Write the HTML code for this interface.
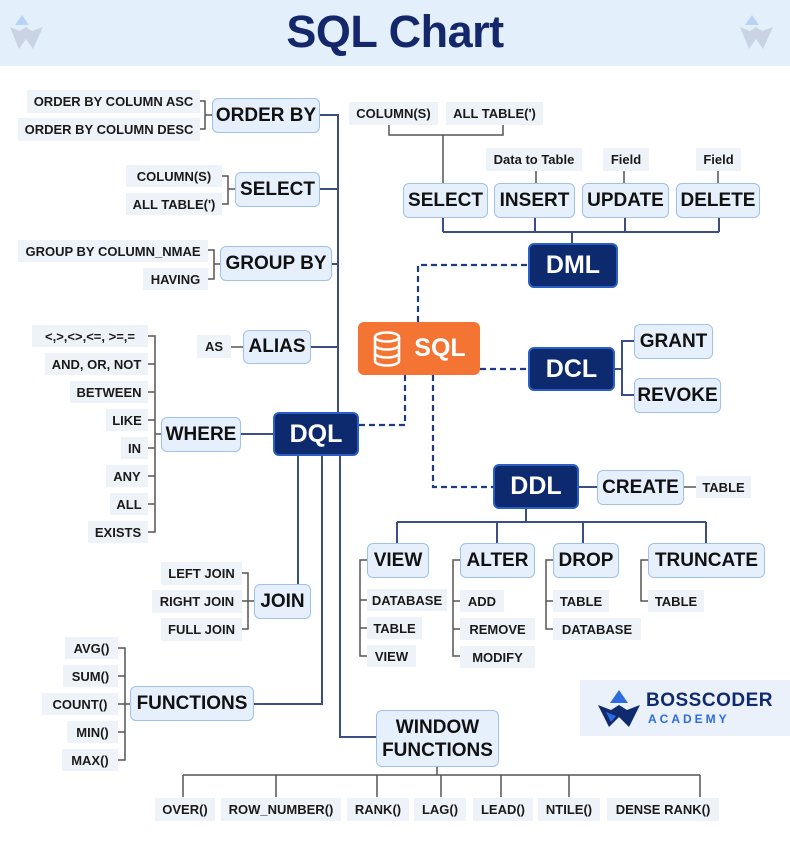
<!DOCTYPE html>
<html><head><meta charset="utf-8"><style>
*{margin:0;padding:0;box-sizing:border-box}
body{width:790px;height:844px;background:#fff;position:relative;overflow:hidden;font-family:"Liberation Sans",Arial,sans-serif}
.hdr{position:absolute;left:0;top:0;width:790px;height:66px;background:#e4effc}
.title{position:absolute;left:0;top:6px;width:790px;text-align:center;font-size:45px;font-weight:700;color:#13276a;letter-spacing:-0.5px}
.n,.l,.d{position:absolute;display:flex;align-items:center;justify-content:center;font-weight:700;white-space:nowrap}
.n{background:#e6f0fc;border:1.5px solid #9fc1ea;border-radius:6px;font-size:19px;color:#111}
.l{background:#eef3f9;font-size:13px;color:#1a1a1a}
.d{background:#0e2a6e;border:2px solid #2c5fc4;border-radius:6px;color:#fff;font-size:25px}
svg{position:absolute;left:0;top:0}
</style></head><body>
<div class="hdr"></div>
<div class="title">SQL Chart</div>
<svg width="790" height="844">
<g fill="none">
<g transform="translate(10,15)"><path d="M12 0 L19 10 L5 10Z" fill="#b8d3f6"/><path d="M0 12 L9 34 L16 24 L23 34 L33 12 L22 16 L16 12 L10 16Z" fill="#c9d3e3"/></g>
<g transform="translate(740,15)"><path d="M12 0 L19 10 L5 10Z" fill="#b8d3f6"/><path d="M0 12 L9 34 L16 24 L23 34 L33 12 L22 16 L16 12 L10 16Z" fill="#c9d3e3"/></g>
<g stroke="#3b4f86" stroke-width="2">
<path d="M320 115 H338 V412"/><path d="M320 189 H338"/><path d="M332 264 H338"/><path d="M311 347 H338"/>
<path d="M241 434 H273"/>
<path d="M298 456 V584"/><path d="M322 456 V704 H254"/><path d="M340 456 V737 H376"/>
<path d="M443 218 V232 M535 218 V232 M625 218 V232 M719 218 V232 M443 232 H719 M572 232 V243"/>
<path d="M615 369 H622 V341 H634 M622 369 V395 H634"/>
<path d="M578 487 H598"/>
<path d="M526 509 V522 M397 522 H706 M397 522 V543 M497 522 V543 M583 522 V543 M706 522 V543"/>
</g>
<g stroke="#1d3b86" stroke-width="2.2" stroke-dasharray="6,4">
<path d="M418 322 V265 H528"/>
<path d="M480 369 H528"/>
<path d="M433 375 V487 H493"/>
<path d="M359 425 H405 V375"/>
</g>
<g stroke="#555" stroke-width="1.5">
<path d="M200 101 H205 V129 H200 M205 115 H212"/>
<path d="M222 176 H228 V204 H222 M228 189 H235"/>
<path d="M208 250 H214 V279 H208 M214 264 H220"/>
<path d="M231 347 H243"/>
<path d="M148 336 H155 V532 H148 M148 364 H155 M148 392 H155 M148 420 H155 M148 448 H155 M148 476 H155 M148 504 H155 M155 434 H161"/>
<path d="M242 573 H248 V629 H242 M242 601 H254"/>
<path d="M118 648 H125 V760 H118 M118 676 H125 M118 704 H130 M118 732 H125"/>
<path d="M437 767 V775 M183 775 H700 M183 775 V797 M276 775 V797 M377 775 V797 M441 775 V797 M501 775 V797 M569 775 V797 M700 775 V797"/>
<path d="M443 183 V135 M389 125 V135 H503 V125"/>
<path d="M536 171 V183 M624 171 V183 M718 171 V183"/>
<path d="M683 487 H696"/>
<path d="M367 560 H360 V656 H367 M360 600 H367 M360 628 H367"/>
<path d="M460 560 H453 V656 H460 M453 601 H460 M453 629 H460"/>
<path d="M553 560 H546 V629 H553 M546 601 H553"/>
<path d="M648 560 H641 V601 H648"/>
</g>
</g>
</svg>

<div class="l" style="left:27px;top:90px;width:173px;height:23px">ORDER BY COLUMN ASC</div>
<div class="l" style="left:18px;top:118px;width:182px;height:23px">ORDER BY COLUMN DESC</div>
<div class="n" style="left:212px;top:98px;width:108px;height:35px">ORDER BY</div>
<div class="l" style="left:126px;top:165px;width:96px;height:22px">COLUMN(S)</div>
<div class="l" style="left:126px;top:193px;width:96px;height:22px">ALL TABLE(')</div>
<div class="n" style="left:235px;top:172px;width:85px;height:35px">SELECT</div>
<div class="l" style="left:18px;top:240px;width:190px;height:22px">GROUP BY COLUMN_NMAE</div>
<div class="l" style="left:143px;top:268px;width:65px;height:22px">HAVING</div>
<div class="n" style="left:220px;top:246px;width:112px;height:35px">GROUP BY</div>
<div class="l" style="left:197px;top:335px;width:34px;height:23px">AS</div>
<div class="n" style="left:243px;top:330px;width:68px;height:34px">ALIAS</div>
<div class="l" style="left:32px;top:325px;width:116px;height:22px">&lt;,&gt;,&lt;&gt;,&lt;=, &gt;=,=</div>
<div class="l" style="left:45px;top:353px;width:103px;height:22px">AND, OR, NOT</div>
<div class="l" style="left:70px;top:381px;width:78px;height:22px">BETWEEN</div>
<div class="l" style="left:106px;top:409px;width:42px;height:22px">LIKE</div>
<div class="l" style="left:121px;top:437px;width:27px;height:22px">IN</div>
<div class="l" style="left:106px;top:465px;width:42px;height:22px">ANY</div>
<div class="l" style="left:110px;top:493px;width:38px;height:22px">ALL</div>
<div class="l" style="left:88px;top:521px;width:60px;height:22px">EXISTS</div>
<div class="n" style="left:161px;top:417px;width:80px;height:35px">WHERE</div>
<div class="d" style="left:273px;top:412px;width:86px;height:44px">DQL</div>
<div class="l" style="left:161px;top:562px;width:81px;height:23px">LEFT JOIN</div>
<div class="l" style="left:152px;top:590px;width:90px;height:23px">RIGHT JOIN</div>
<div class="l" style="left:161px;top:618px;width:81px;height:23px">FULL JOIN</div>
<div class="n" style="left:254px;top:584px;width:57px;height:35px">JOIN</div>
<div class="l" style="left:65px;top:637px;width:53px;height:22px">AVG()</div>
<div class="l" style="left:63px;top:665px;width:55px;height:22px">SUM()</div>
<div class="l" style="left:42px;top:693px;width:76px;height:22px">COUNT()</div>
<div class="l" style="left:67px;top:721px;width:51px;height:22px">MIN()</div>
<div class="l" style="left:62px;top:749px;width:56px;height:22px">MAX()</div>
<div class="n" style="left:130px;top:686px;width:124px;height:35px">FUNCTIONS</div>
<div class="n" style="left:376px;top:710px;width:123px;height:57px;line-height:23px;text-align:center;flex-direction:column">WINDOW<br>FUNCTIONS</div>
<div class="l" style="left:155px;top:798px;width:60px;height:23px">OVER()</div>
<div class="l" style="left:221px;top:798px;width:120px;height:23px">ROW_NUMBER()</div>
<div class="l" style="left:347px;top:798px;width:62px;height:23px">RANK()</div>
<div class="l" style="left:414px;top:798px;width:52px;height:23px">LAG()</div>
<div class="l" style="left:473px;top:798px;width:60px;height:23px">LEAD()</div>
<div class="l" style="left:538px;top:798px;width:62px;height:23px">NTILE()</div>
<div class="l" style="left:607px;top:798px;width:112px;height:23px">DENSE RANK()</div>

<div style="position:absolute;left:358px;top:322px;width:122px;height:53px;background:#f47433;border-radius:6px;display:flex;align-items:center;justify-content:center;color:#fff;font-weight:700;font-size:25px">
<svg width="30" height="36" style="position:static;margin-right:12px" viewBox="0 0 30 36"><g fill="none" stroke="#fff" stroke-width="2.6"><ellipse cx="15" cy="6" rx="12" ry="4.5"/><path d="M3 6 V30 A12 4.5 0 0 0 27 30 V6 M3 14 A12 4.5 0 0 0 27 14 M3 22 A12 4.5 0 0 0 27 22"/></g></svg>SQL</div>
<div class="l" style="left:349px;top:102px;width:89px;height:23px">COLUMN(S)</div>
<div class="l" style="left:446px;top:102px;width:97px;height:23px">ALL TABLE(')</div>
<div class="l" style="left:486px;top:148px;width:96px;height:23px;font-weight:600">Data to Table</div>
<div class="l" style="left:603px;top:148px;width:46px;height:23px;font-weight:600">Field</div>
<div class="l" style="left:696px;top:148px;width:45px;height:23px;font-weight:600">Field</div>
<div class="n" style="left:403px;top:183px;width:85px;height:35px">SELECT</div>
<div class="n" style="left:494px;top:183px;width:81px;height:35px">INSERT</div>
<div class="n" style="left:582px;top:183px;width:87px;height:35px">UPDATE</div>
<div class="n" style="left:676px;top:183px;width:84px;height:35px">DELETE</div>
<div class="d" style="left:528px;top:243px;width:90px;height:45px">DML</div>
<div class="d" style="left:528px;top:347px;width:87px;height:44px">DCL</div>
<div class="n" style="left:634px;top:324px;width:79px;height:35px">GRANT</div>
<div class="n" style="left:634px;top:378px;width:87px;height:35px">REVOKE</div>
<div class="d" style="left:493px;top:464px;width:86px;height:45px">DDL</div>
<div class="n" style="left:597px;top:470px;width:87px;height:35px">CREATE</div>
<div class="l" style="left:696px;top:476px;width:55px;height:22px">TABLE</div>
<div class="n" style="left:367px;top:543px;width:62px;height:35px">VIEW</div>
<div class="n" style="left:460px;top:543px;width:75px;height:35px">ALTER</div>
<div class="n" style="left:553px;top:543px;width:66px;height:35px">DROP</div>
<div class="n" style="left:648px;top:543px;width:117px;height:35px">TRUNCATE</div>
<div class="l" style="left:367px;top:589px;width:80px;height:22px">DATABASE</div>
<div class="l" style="left:367px;top:617px;width:55px;height:22px">TABLE</div>
<div class="l" style="left:367px;top:645px;width:49px;height:22px">VIEW</div>
<div class="l" style="left:460px;top:590px;width:44px;height:22px">ADD</div>
<div class="l" style="left:460px;top:618px;width:75px;height:22px">REMOVE</div>
<div class="l" style="left:460px;top:646px;width:75px;height:22px">MODIFY</div>
<div class="l" style="left:553px;top:590px;width:56px;height:22px">TABLE</div>
<div class="l" style="left:553px;top:618px;width:88px;height:22px">DATABASE</div>
<div class="l" style="left:648px;top:590px;width:56px;height:22px">TABLE</div>

<div style="position:absolute;left:580px;top:680px;width:210px;height:56px;background:#eaf1fb"></div>
<svg width="42" height="38" style="left:598px;top:690px" viewBox="0 0 42 38"><path d="M21 0 L30 13 L12 13Z" fill="#2d6be0"/><path d="M0 15 L11 37 L21 27 L31 37 L42 15 L29 20 L21 15 L13 20Z" fill="#0f2a6e"/><path d="M8 22 L13 32 L18 26Z" fill="#2d6be0"/></svg>
<div style="position:absolute;left:646px;top:690px;font-size:19px;font-weight:700;color:#0f2a6e;letter-spacing:0.5px">BOSSCODER</div>
<div style="position:absolute;left:648px;top:712px;font-size:12px;font-weight:700;color:#2d6be0;letter-spacing:3px">ACADEMY</div>
</body></html>
